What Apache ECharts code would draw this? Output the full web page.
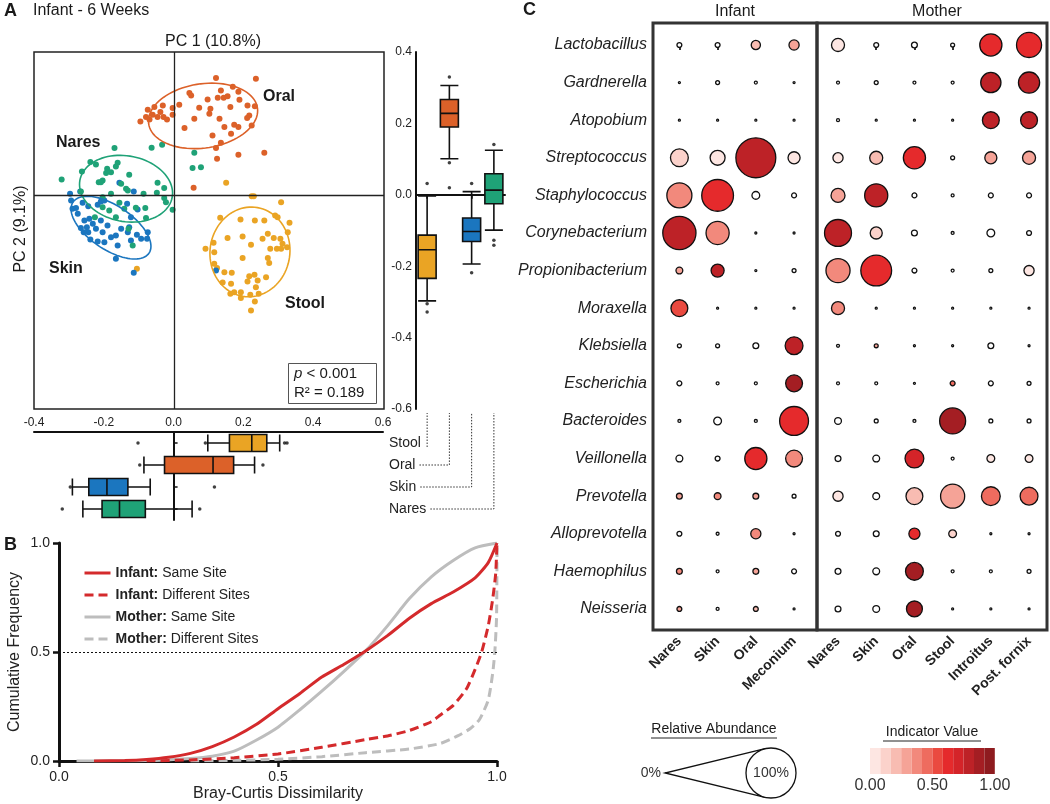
<!DOCTYPE html>
<html><head><meta charset="utf-8">
<script src="https://cdn.jsdelivr.net/npm/echarts@6/dist/echarts.min.js"></script>
<style>html,body{margin:0;padding:0;background:#fff}#c{width:1050px;height:804px}</style>
</head><body><div id="c"></div>
<script>
// ================= DATA =================
// Panel A : PCoA coordinates (PC1, PC2) per body site
const groups = ['Stool', 'Oral', 'Skin', 'Nares'];
const oralPts = [[0.12,0.327],[0.234,0.325],[0.044,0.285],[0.049,0.278],[0.134,0.292],[0.168,0.303],[0.184,0.289],[0.125,0.272],[0.142,0.272],[0.153,0.276],[0.096,0.267],[0.015,0.252],[-0.032,0.25],[-0.004,0.243],[0.072,0.244],[0.104,0.241],[0.161,0.246],[0.187,0.266],[0.21,0.25],[0.231,0.248],[-0.075,0.238],[-0.056,0.246],[-0.039,0.232],[-0.061,0.224],[-0.03,0.218],[-0.096,0.205],[-0.08,0.218],[-0.02,0.211],[-0.004,0.224],[0.101,0.227],[0.058,0.213],[0.13,0.213],[0.215,0.222],[0.209,0.215],[0.222,0.194],[0.03,0.187],[0.11,0.166],[0.144,0.19],[0.163,0.171],[0.172,0.196],[0.184,0.19],[0.134,0.146],[0.12,0.131],[0.184,0.112],[0.258,0.118],[0.123,0.101],[0.056,0.02],[-0.07,0.211],[-0.047,0.218]];
const naresPts = [[-0.17,0.131],[-0.034,0.14],[-0.064,0.132],[0.058,0.118],[-0.239,0.092],[-0.223,0.085],[-0.161,0.09],[-0.166,0.079],[-0.191,0.073],[-0.263,0.065],[-0.194,0.061],[-0.18,0.063],[-0.204,0.04],[-0.215,0.035],[-0.128,0.056],[-0.321,0.043],[-0.209,0.035],[-0.266,0.009],[-0.151,0.031],[-0.137,0.017],[-0.047,0.034],[-0.028,0.019],[-0.049,0.006],[-0.087,0.003],[-0.18,0.003],[-0.204,-0.007],[-0.156,-0.022],[-0.132,0.012],[0.053,0.075],[0.077,0.077],[-0.028,-0.009],[-0.023,-0.021],[-0.004,-0.042],[-0.082,-0.037],[-0.109,-0.036],[-0.08,-0.065],[-0.226,-0.063],[-0.204,-0.035],[-0.185,-0.044],[-0.166,-0.063],[-0.142,-0.039],[-0.118,-0.142],[-0.13,-0.095]];
const skinPts = [[-0.297,0.003],[-0.294,-0.016],[-0.268,0.009],[-0.156,0.034],[-0.115,0.009],[-0.29,-0.039],[-0.28,-0.037],[-0.261,-0.022],[-0.245,-0.032],[-0.218,-0.028],[-0.209,-0.019],[-0.199,-0.016],[-0.134,-0.025],[-0.104,-0.041],[-0.123,-0.063],[-0.242,-0.067],[-0.256,-0.072],[-0.266,-0.093],[-0.249,-0.091],[-0.232,-0.081],[-0.223,-0.095],[-0.245,-0.105],[-0.204,-0.105],[-0.18,-0.119],[-0.166,-0.114],[-0.218,-0.131],[-0.199,-0.133],[-0.239,-0.125],[-0.132,-0.105],[-0.128,-0.091],[-0.106,-0.112],[-0.094,-0.123],[-0.075,-0.105],[-0.077,-0.123],[-0.123,-0.128],[-0.161,-0.142],[-0.166,-0.179],[-0.115,-0.218],[0.12,-0.212],[-0.275,-0.053],[-0.19,-0.086],[-0.151,-0.095],[-0.209,-0.072],[-0.258,-0.105]];
const stoolPts = [[0.149,0.034],[0.222,-0.004],[0.228,-0.004],[0.306,-0.021],[0.132,-0.064],[0.19,-0.069],[0.231,-0.072],[0.258,-0.072],[0.289,-0.058],[0.296,-0.063],[0.33,-0.078],[0.153,-0.121],[0.196,-0.117],[0.268,-0.109],[0.285,-0.121],[0.304,-0.123],[0.09,-0.151],[0.113,-0.134],[0.22,-0.14],[0.275,-0.151],[0.294,-0.151],[0.306,-0.151],[0.323,-0.147],[0.196,-0.177],[0.268,-0.177],[0.272,-0.191],[0.115,-0.193],[0.123,-0.205],[0.144,-0.217],[0.165,-0.218],[0.215,-0.228],[0.23,-0.224],[0.263,-0.231],[0.21,-0.243],[0.239,-0.24],[0.139,-0.246],[0.163,-0.249],[0.172,-0.273],[0.234,-0.259],[0.191,-0.273],[0.161,-0.277],[0.218,-0.28],[-0.106,-0.207],[0.325,-0.105],[0.31,-0.137],[0.115,-0.161],[0.253,-0.123],[0.191,-0.289],[0.242,-0.277],[0.22,-0.324],[0.231,-0.299]];
// confidence ellipses: [centerPC1, centerPC2, semi-major, semi-minor, angle(deg)] in order of groups
const ellipses = [[0.217,-0.16,0.126,0.114,80],[0.083,0.221,0.157,0.09,8],[-0.18,-0.092,0.13,0.062,-33],[-0.137,0.017,0.134,0.092,-10]];
// box plots [min, Q1, median, Q3, max] in order of groups
const pc2Box = [[-0.297,-0.234,-0.154,-0.113,-0.003],[0.101,0.19,0.228,0.267,0.306],[-0.194,-0.131,-0.103,-0.065,0.009],[-0.099,-0.025,0.013,0.059,0.125]];
const pc2Outliers = [['Stool',0.032],['Stool',-0.305],['Stool',-0.328],['Oral',0.33],['Oral',0.09],['Oral',0.02],['Skin',0.032],['Skin',-0.218],['Nares',0.141],['Nares',-0.127],['Nares',-0.141]];
const pc1Box = [[0.098,0.16,0.224,0.267,0.304],[-0.085,-0.026,0.113,0.172,0.232],[-0.29,-0.243,-0.191,-0.131,-0.067],[-0.26,-0.205,-0.155,-0.081,0.053]];
const pc1Outliers = [[-0.102,'Stool'],[0.091,'Stool'],[0.318,'Stool'],[0.325,'Stool'],[-0.097,'Oral'],[0.256,'Oral'],[-0.296,'Skin'],[0.117,'Skin'],[-0.319,'Nares'],[0.075,'Nares']];

// Panel B : cumulative distributions of Bray-Curtis dissimilarity
const cdfNames = ['Infant: Same Site', 'Infant: Different Sites', 'Mother: Same Site', 'Mother: Different Sites'];
const infantSame = [[0.08,0],[0.15,0.002],[0.2,0.007],[0.25,0.017],[0.3,0.035],[0.35,0.066],[0.4,0.11],[0.45,0.167],[0.5,0.24],[0.55,0.31],[0.6,0.385],[0.65,0.443],[0.7,0.505],[0.75,0.575],[0.8,0.655],[0.85,0.722],[0.9,0.775],[0.95,0.84],[0.98,0.91],[1.0,1.0]];
const infantDiff = [[0.2,0],[0.3,0.005],[0.4,0.015],[0.5,0.032],[0.6,0.063],[0.7,0.098],[0.75,0.115],[0.8,0.14],[0.85,0.18],[0.87,0.21],[0.9,0.255],[0.93,0.33],[0.95,0.42],[0.965,0.5],[0.98,0.62],[0.99,0.74],[0.997,0.86],[1.0,1.0]];
const motherSame = [[0.04,0],[0.2,0.002],[0.3,0.012],[0.35,0.022],[0.4,0.045],[0.45,0.095],[0.5,0.155],[0.55,0.235],[0.6,0.32],[0.65,0.41],[0.7,0.505],[0.75,0.62],[0.8,0.745],[0.85,0.845],[0.9,0.92],[0.95,0.978],[1.0,1.0]];
const motherDiff = [[0.3,0],[0.4,0.003],[0.5,0.008],[0.6,0.02],[0.7,0.038],[0.8,0.055],[0.87,0.08],[0.91,0.115],[0.94,0.15],[0.96,0.19],[0.98,0.28],[0.99,0.4],[0.995,0.5],[0.999,0.66],[1.0,1.0]];

// Panel C : relative abundance (%) and indicator value per genus x site
const genera = ['Lactobacillus','Gardnerella','Atopobium','Streptococcus','Staphylococcus','Corynebacterium','Propionibacterium','Moraxella','Klebsiella','Escherichia','Bacteroides','Veillonella','Prevotella','Alloprevotella','Haemophilus','Neisseria'];
const infantSites = ['Nares','Skin','Oral','Meconium'];
const motherSites = ['Nares','Skin','Oral','Stool','Introitus','Post. fornix'];
const infantAbund = [[6,6,15,17],[0,4,2,0],[0,0,0,0],[33,27,79,21],[48,62,12,6],[65,44,0,0],[10,23,0,4],[31,0,0,0],[4,4,8,33],[6,2,2,31],[2,12,2,56],[10,6,42,31],[8,10,8,4],[6,2,17,0],[8,2,8,6],[6,2,6,0]];
const infantIV = [[0,0,0.2,0.3],[0,0,0,0],[0,0,0,0],[0.12,0.06,0.8,0.03],[0.4,0.62,0,0],[0.78,0.38,0,0],[0.3,0.8,0,0],[0.52,0,0,0],[0,0,0,0.8],[0,0,0,0.9],[0,0,0,0.6],[0,0,0.62,0.38],[0.3,0.36,0.3,0],[0,0,0.38,0],[0.4,0,0.3,0],[0.3,0,0.2,0]];
const motherAbund = [[23,6,8,4,42,48],[2,4,2,2,38,40],[2,0,0,0,31,31],[17,23,42,4,21,23],[25,44,6,2,6,6],[52,21,8,2,12,6],[46,60,6,2,4,17],[23,0,0,0,0,0],[2,4,0,0,8,0],[2,2,0,6,6,4],[10,4,2,50,4,4],[8,10,35,2,12,12],[17,10,31,46,35,33],[6,8,19,12,0,0],[8,10,33,2,2,4],[8,10,29,0,0,0]];
const motherIV = [[0.05,0,0,0,0.6,0.6],[0,0,0,0,0.8,0.8],[0,0,0,0,0.82,0.82],[0.05,0.2,0.6,0,0.26,0.26],[0.28,0.8,0,0,0,0],[0.8,0.15,0,0,0,0],[0.38,0.62,0,0,0,0.03],[0.38,0,0,0,0,0],[0,0.3,0,0,0,0],[0,0,0,0.46,0,0],[0,0,0,0.9,0,0],[0,0,0.7,0,0.08,0.08],[0.04,0,0.18,0.3,0.42,0.42],[0,0,0.62,0.15,0,0],[0,0,0.85,0,0,0],[0,0,0.9,0,0,0]];
const ivTicks = [0, 0.5, 1];

// ================= STYLE =================
const FF = 'Arial, "Liberation Sans", Helvetica, sans-serif';
const groupColors = ['#eaa424', '#dc6129', '#1b76bf', '#1fa277'];
const ivColors = ['#fde6e2','#fbd2cb','#f8bcb2','#f5a397','#f2897c','#ee6c5f','#ea4a40','#e52a2c','#d42429','#bd2227','#a41e23','#8e1b1f'];
const sizeOf = a => 2 + a * 0.48;
const fmt1 = v => (Math.abs(v) < 1e-9 ? 0 : v).toFixed(1);

function T(id, text, x, y, size, o = {}) {
  return { type: 'text', id, x, y, rotation: o.rot || 0, silent: true, z: 50,
    style: { text, fill: o.color || '#1a1a1a', fontSize: size, fontFamily: FF,
      fontWeight: o.bold ? 'bold' : 'normal', fontStyle: o.italic ? 'italic' : 'normal',
      align: o.align || 'left', verticalAlign: o.va || 'middle', rich: o.rich } };
}

const chart = echarts.init(document.getElementById('c'));

const bubbleData = (ab, iv) => {
  const out = [];
  ab.forEach((row, r) => row.forEach((a, c) => out.push([c, r, a, iv[r][c]])));
  return out;
};

const axisBlack = (w) => ({ show: true, lineStyle: { color: '#111', width: w } });

// legend circle geometry
const circC = [771, 773], circR = sizeOf(100) / 2, apex = [665, 773];
const dd = circC[0] - apex[0], alpha = Math.acos(circR / dd);
const tUp = [circC[0] - circR * Math.cos(alpha), circC[1] - circR * Math.sin(alpha)];
const tDn = [circC[0] - circR * Math.cos(alpha), circC[1] + circR * Math.sin(alpha)];

const baseGraphics = [
  T('gA', 'A', 4, 11, 18, { bold: true }),
  T('gAt', 'Infant - 6 Weeks', 33, 11, 16),
  T('gPC1', 'PC 1 (10.8%)', 213, 42, 16, { align: 'center' }),
  T('gPC2', 'PC 2 (9.1%)', 21, 229, 16, { align: 'center', rot: Math.PI / 2 }),
  T('gOral', 'Oral', 263, 97, 16, { bold: true }),
  T('gNares', 'Nares', 56, 143, 16, { bold: true }),
  T('gSkin', 'Skin', 49, 269, 16, { bold: true }),
  T('gStool', 'Stool', 285, 304, 16, { bold: true }),
  { type: 'rect', id: 'statBox', shape: { x: 288.5, y: 363.5, width: 88, height: 40 }, style: { fill: '#fff', stroke: '#555', lineWidth: 1 }, z: 40 },
  T('gP', '{i|p} < 0.001', 294, 374, 15, { rich: { i: { fontStyle: 'italic', fontSize: 15, fontFamily: FF } } }),
  T('gR', 'R² = 0.189', 294, 393, 15),
  T('gB', 'B', 4, 545, 18, { bold: true }),
  T('gC', 'C', 523, 10, 18, { bold: true }),
  T('gInf', 'Infant', 735, 12, 16, { align: 'center' }),
  T('gMom', 'Mother', 937, 12, 16, { align: 'center' }),
  T('gRA', 'Relative Abundance', 714, 729, 14, { align: 'center' }),
  { type: 'line', id: 'raU', shape: { x1: 651, y1: 738, x2: 777, y2: 738 }, style: { stroke: '#222', lineWidth: 1 } },
  { type: 'polyline', id: 'raTri', shape: { points: [tUp, apex, tDn] }, style: { fill: 'none', stroke: '#111', lineWidth: 1.3 } },
  { type: 'circle', id: 'raCirc', shape: { cx: circC[0], cy: circC[1], r: circR }, style: { fill: '#fff', stroke: '#111', lineWidth: 1.3 } },
  T('ra0', '0%', 661, 773, 14, { align: 'right', color: '#333' }),
  T('ra100', '100%', circC[0], circC[1], 14, { align: 'center', color: '#333' }),
  T('gIV', 'Indicator Value', 932, 732, 14, { align: 'center' }),
  { type: 'line', id: 'ivU', shape: { x1: 883, y1: 741, x2: 981, y2: 741 }, style: { stroke: '#222', lineWidth: 1 } }
].concat(ivTicks.map((v, i) => T('ivt' + i, v.toFixed(2), 870 + v * 124.8, 786, 16, { align: 'center', color: '#333' })));

const series = [];
[stoolPts, oralPts, skinPts, naresPts].forEach((pts, i) => series.push({
  type: 'scatter', name: groups[i], xAxisIndex: 0, yAxisIndex: 0, data: pts, symbolSize: 6,
  itemStyle: { color: groupColors[i], opacity: 1 }, z: 3,
  markLine: i === 0 ? { silent: true, symbol: 'none', label: { show: false },
    lineStyle: { color: '#222', width: 1.3, type: 'solid' }, data: [{ xAxis: 0 }, { yAxis: 0 }] } : undefined
}));
series.push({ type: 'custom', xAxisIndex: 0, yAxisIndex: 0, data: ellipses, z: 4, silent: true,
  renderItem: (params, api) => {
    const cx = api.value(0), cy = api.value(1), a = api.value(2), b = api.value(3), th = api.value(4) * Math.PI / 180;
    const pts = [];
    for (let k = 0; k <= 90; k++) {
      const t = k / 90 * 2 * Math.PI, ex = a * Math.cos(t), ey = b * Math.sin(t);
      pts.push(api.coord([cx + ex * Math.cos(th) - ey * Math.sin(th), cy + ex * Math.sin(th) + ey * Math.cos(th)]));
    }
    return { type: 'polygon', shape: { points: pts }, style: { fill: 'none', stroke: groupColors[params.dataIndex], lineWidth: 1.6 } };
  } });
series.push({ type: 'boxplot', xAxisIndex: 1, yAxisIndex: 1, boxWidth: [18, 18],
  itemStyle: { borderColor: '#111', borderWidth: 1.6 },
  data: pc2Box.map((v, i) => ({ value: v, itemStyle: { color: groupColors[i] } })) });
series.push({ type: 'scatter', xAxisIndex: 1, yAxisIndex: 1, data: pc2Outliers, symbolSize: 3.5, itemStyle: { color: '#111' } });
series.push({ type: 'boxplot', xAxisIndex: 2, yAxisIndex: 2, boxWidth: [17, 17],
  itemStyle: { borderColor: '#111', borderWidth: 1.6 },
  data: pc1Box.map((v, i) => ({ value: v, itemStyle: { color: groupColors[i] } })) });
series.push({ type: 'scatter', xAxisIndex: 2, yAxisIndex: 2, data: pc1Outliers, symbolSize: 3.5, itemStyle: { color: '#111' } });
[infantSame, infantDiff, motherSame, motherDiff].forEach((d, i) => series.push({
  type: 'line', name: cdfNames[i], xAxisIndex: 3, yAxisIndex: 3, data: d, showSymbol: false, symbol: 'none',
  smooth: 0.2, z: i < 2 ? 5 : 4,
  lineStyle: { color: i < 2 ? '#d42a2c' : '#bdbdbd', width: 3, type: i % 2 ? [9, 5] : 'solid' },
  itemStyle: { color: i < 2 ? '#d42a2c' : '#bdbdbd' },
  markLine: i === 0 ? { silent: true, symbol: 'none', label: { show: false },
    lineStyle: { color: '#111', width: 1, type: [2, 2] }, data: [{ yAxis: 0.5 }] } : undefined
}));
const bubbleStart = series.length;
series.push({ type: 'scatter', name: 'infantBubbles', xAxisIndex: 4, yAxisIndex: 4, data: bubbleData(infantAbund, infantIV),
  symbolSize: v => sizeOf(v[2]), itemStyle: { borderColor: '#111', borderWidth: 1.3, opacity: 1 } });
series.push({ type: 'scatter', name: 'motherBubbles', xAxisIndex: 5, yAxisIndex: 5, data: bubbleData(motherAbund, motherIV),
  symbolSize: v => sizeOf(v[2]), itemStyle: { borderColor: '#111', borderWidth: 1.3, opacity: 1 } });

const option = {
  animation: false,
  backgroundColor: '#fff',
  textStyle: { fontFamily: FF },
  grid: [
    { left: 34, top: 52, width: 350, height: 357, show: true, borderColor: '#222', borderWidth: 1.5, outerBoundsMode: 'none' },
    { left: 416, top: 52, width: 89, height: 357, outerBoundsMode: 'none' },
    { left: 34, top: 432, width: 349, height: 88, outerBoundsMode: 'none' },
    { left: 59, top: 543, width: 438, height: 218, outerBoundsMode: 'none' },
    { left: 653, top: 23, width: 164, height: 607, show: true, borderColor: '#333', borderWidth: 3, outerBoundsMode: 'none' },
    { left: 817, top: 23, width: 230, height: 607, show: true, borderColor: '#333', borderWidth: 3, outerBoundsMode: 'none' }
  ],
  xAxis: [
    { gridIndex: 0, type: 'value', min: -0.4, max: 0.6, interval: 0.2, show: false },
    { gridIndex: 1, type: 'category', data: groups, axisLine: axisBlack(2),
      axisTick: { show: true, alignWithLabel: true, length: 4, lineStyle: { color: '#111', width: 1.5 } }, axisLabel: { show: false } },
    { gridIndex: 2, type: 'value', position: 'top', min: -0.4, max: 0.6, interval: 0.2, axisLine: axisBlack(2),
      axisTick: { show: false }, splitLine: { show: false },
      axisLabel: { fontSize: 12, color: '#222', margin: 3, formatter: fmt1 } },
    { gridIndex: 3, type: 'value', min: 0, max: 1, interval: 0.5, axisLine: axisBlack(3),
      axisTick: { show: true, length: 6, lineStyle: { color: '#111', width: 2.5 } }, splitLine: { show: false },
      axisLabel: { fontSize: 14, color: '#222', margin: 9, formatter: fmt1 },
      name: 'Bray-Curtis Dissimilarity', nameLocation: 'middle', nameGap: 25,
      nameTextStyle: { fontSize: 16, color: '#222' } },
    { gridIndex: 4, type: 'value', min: -0.69, max: 3.6, splitLine: { show: false }, axisLine: { show: false },
      axisTick: { show: true, customValues: [0, 1, 2, 3], length: 5, lineStyle: { color: '#333', width: 2 } },
      axisLabel: { customValues: [0, 1, 2, 3], formatter: v => infantSites[Math.round(v)], rotate: 45, fontWeight: 'bold', fontSize: 14, color: '#222', margin: 9 } },
    { gridIndex: 5, type: 'value', min: -0.55, max: 5.47, splitLine: { show: false }, axisLine: { show: false },
      axisTick: { show: true, customValues: [0, 1, 2, 3, 4, 5], length: 5, lineStyle: { color: '#333', width: 2 } },
      axisLabel: { customValues: [0, 1, 2, 3, 4, 5], formatter: v => motherSites[Math.round(v)], rotate: 45, fontWeight: 'bold', fontSize: 14, color: '#222', margin: 9 } }
  ],
  yAxis: [
    { gridIndex: 0, type: 'value', min: -0.6, max: 0.4, interval: 0.2, show: false },
    { gridIndex: 1, type: 'value', min: -0.6, max: 0.4, interval: 0.2, axisLine: axisBlack(2),
      axisTick: { show: false }, splitLine: { show: false },
      axisLabel: { fontSize: 12, color: '#222', margin: 4, formatter: fmt1 } },
    { gridIndex: 2, type: 'category', data: groups, inverse: true, position: 'right', axisLine: axisBlack(2),
      axisTick: { show: true, alignWithLabel: true, length: 4, lineStyle: { color: '#111', width: 1.5 } },
      axisLabel: { fontSize: 14, color: '#222', margin: 6 } },
    { gridIndex: 3, type: 'value', min: 0, max: 1, interval: 0.5, axisLine: axisBlack(3),
      axisTick: { show: true, length: 6, lineStyle: { color: '#111', width: 2.5 } }, splitLine: { show: false },
      axisLabel: { fontSize: 14, color: '#222', margin: 9, formatter: fmt1 },
      name: 'Cumulative Frequency', nameLocation: 'middle', nameGap: 36,
      nameTextStyle: { fontSize: 16, color: '#222' } },
    { gridIndex: 4, type: 'value', inverse: true, min: -0.585, max: 15.56, splitLine: { show: false },
      axisLine: { show: false }, axisTick: { show: false },
      axisLabel: { customValues: genera.map((g, i) => i), formatter: v => genera[Math.round(v)], fontStyle: 'italic', fontSize: 16, color: '#222', margin: 6 } },
    { gridIndex: 5, type: 'value', inverse: true, min: -0.585, max: 15.56, show: false }
  ],
  legend: {
    data: cdfNames, left: 78, top: 561, orient: 'vertical', itemWidth: 26, itemHeight: 12, itemGap: 8,
    selectedMode: false, itemStyle: { opacity: 0 }, lineStyle: { width: 3 },
    textStyle: { fontSize: 14, color: '#222', fontFamily: FF, rich: { b: { fontWeight: 'bold', fontSize: 14, color: '#222', fontFamily: FF } } },
    formatter: n => { const p = n.split(':'); return '{b|' + p[0] + ':}' + p[1]; }
  },
  visualMap: {
    type: 'piecewise', seriesIndex: [bubbleStart, bubbleStart + 1], dimension: 3,
    pieces: ivColors.map((c, i) => ({ gt: i / ivColors.length, lte: (i + 1) / ivColors.length, color: c })),
    outOfRange: { color: '#ffffff' },
    orient: 'horizontal', left: 870, top: 748, itemWidth: 10.4, itemHeight: 26, itemGap: 0,
    showLabel: false, itemSymbol: 'rect', selectedMode: false, hoverLink: false, padding: 0
  },
  series,
  graphic: baseGraphics
};
chart.setOption(option);

// dotted connectors between the two box plot axes, placed through the axes' scales
const ctx = document.createElement('canvas').getContext('2d');
ctx.font = '14px ' + FF;
const yBottom = chart.convertToPixel({ yAxisIndex: 1 }, -0.6) + 4;
const axisRight = chart.convertToPixel({ xAxisIndex: 2 }, 0.6);
const connectors = groups.map((g, i) => {
  const x = chart.convertToPixel({ xAxisIndex: 1 }, g);
  const y = chart.convertToPixel({ yAxisIndex: 2 }, g);
  const tEnd = axisRight + 7 + ctx.measureText(g).width + 3;
  const pts = tEnd < x - 3 ? [[tEnd, y], [x, y], [x, yBottom]] : [[x, y + 4], [x, yBottom]];
  return { type: 'polyline', id: 'conn' + i, silent: true, shape: { points: pts },
    style: { fill: 'none', stroke: '#333', lineWidth: 1, lineDash: [1.5, 1.5] } };
});
chart.setOption({ graphic: baseGraphics.concat(connectors) });
</script></body></html>
